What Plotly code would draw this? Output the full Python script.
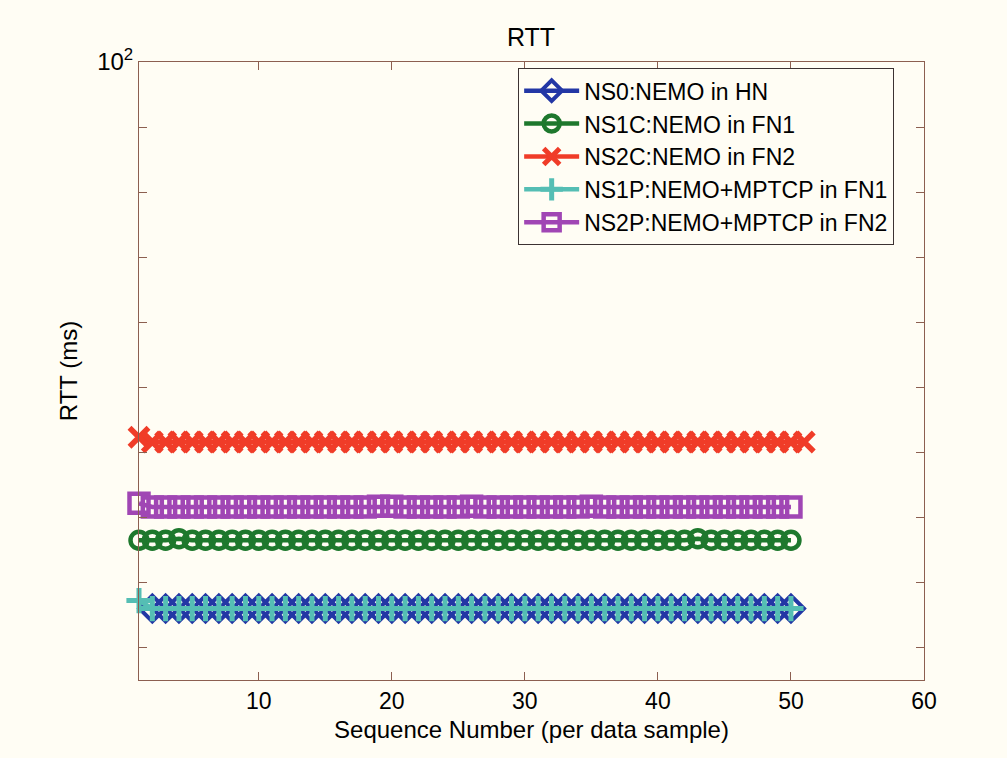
import plotly.graph_objects as go

# ---- data ----
x_ns0 = list(range(2, 51))
y_ns0 = [14.45] * len(x_ns0)

x_ns1c = list(range(1, 51))
y_ns1c = [18.4, 18.4, 18.4, 18.5, 18.4, 18.4, 18.4, 18.4, 18.4, 18.4,
          18.4, 18.4, 18.4, 18.4, 18.4, 18.4, 18.4, 18.4, 18.4, 18.4,
          18.4, 18.4, 18.4, 18.4, 18.4, 18.4, 18.4, 18.4, 18.4, 18.4,
          18.4, 18.4, 18.4, 18.4, 18.4, 18.4, 18.4, 18.4, 18.4, 18.4,
          18.4, 18.4, 18.5, 18.4, 18.4, 18.4, 18.4, 18.4, 18.4, 18.4]

x_ns2c = list(range(1, 52))
y_ns2c = [26.5] + [26.05] * 50

x_ns1p = list(range(1, 51))
y_ns1p = [14.86] + [14.45] * 49

x_ns2p = list(range(1, 51))
y_ns2p = [20.97, 20.7, 20.7, 20.7, 20.7, 20.7, 20.7, 20.7, 20.7, 20.7,
          20.7, 20.7, 20.7, 20.7, 20.7, 20.7, 20.7, 20.7, 20.75, 20.75,
          20.7, 20.7, 20.7, 20.7, 20.7, 20.75, 20.7, 20.7, 20.7, 20.7,
          20.7, 20.7, 20.7, 20.7, 20.75, 20.7, 20.7, 20.7, 20.7, 20.7,
          20.7, 20.7, 20.7, 20.7, 20.7, 20.7, 20.7, 20.7, 20.7, 20.7]

names = ["NS0:NEMO in HN", "NS1C:NEMO in FN1", "NS2C:NEMO in FN2",
         "NS1P:NEMO+MPTCP in FN1", "NS2P:NEMO+MPTCP in FN2"]

x_ticks = [10, 20, 30, 40, 50, 60]
y_major = [100]
y_major_text = ["10<sup>2</sup>"]

# ---- styling ----
BG = "rgb(255,253,244)"
AX = "rgb(140,95,80)"
FONT = "Liberation Sans, Arial, sans-serif"

series = [
    (x_ns0, y_ns0, names[0], "rgb(35,55,165)", "diamond-open", 20, 4),
    (x_ns1c, y_ns1c, names[1], "rgb(30,120,45)", "circle-open", 17, 4.5),
    (x_ns2c, y_ns2c, names[2], "rgb(240,60,40)", "x-thin-open", 19, 5.5),
    (x_ns1p, y_ns1p, names[3], "rgb(85,190,180)", "cross-thin-open", 18, 5),
    (x_ns2p, y_ns2p, names[4], "rgb(160,70,180)", "square-open", 19, 4.5),
]

fig = go.Figure()
for xs, ys, nm, col, sym, sz, lw in series:
    fig.add_trace(go.Scatter(
        x=xs, y=ys, name=nm, mode="lines+markers", cliponaxis=False,
        line=dict(color=col, width=4.5),
        marker=dict(symbol=sym, size=sz, color=col,
                    line=dict(color=col, width=lw)),
    ))
# dummy trace to activate the secondary (tick-only) axis
fig.add_trace(go.Scatter(x=[None], y=[None], yaxis="y2", showlegend=False,
                         hoverinfo="skip"))

fig.update_layout(
    width=1007, height=758,
    paper_bgcolor=BG, plot_bgcolor=BG,
    margin=dict(l=139, r=83, t=62, b=78),
    font=dict(family=FONT, size=23, color="black"),
    title=dict(text="RTT", x=0.5273, xanchor="center", y=0.951, yanchor="middle",
               font=dict(size=25, family=FONT, color="black")),
    showlegend=True,
    legend=dict(x=0.483, y=0.99, xanchor="left", yanchor="top",
                bgcolor=BG, bordercolor="rgb(60,50,50)", borderwidth=1,
                font=dict(size=23, family=FONT, color="black"),
                itemwidth=55, tracegroupgap=0),
    xaxis=dict(
        range=[1, 60], tickvals=x_ticks, ticks="inside", ticklen=8,
        tickcolor=AX, showline=True, linecolor=AX, linewidth=1, mirror="ticks",
        showgrid=False, zeroline=False,
        title=dict(text="Sequence Number (per data sample)", standoff=8,
                   font=dict(size=24, family=FONT)),
        tickfont=dict(size=23),
    ),
    yaxis=dict(
        type="log", range=[1.05, 2], tickvals=y_major, ticktext=y_major_text,
        ticks="inside", ticklen=8, tickcolor=AX, showline=True, linecolor=AX,
        linewidth=1, mirror="ticks", showgrid=False, zeroline=False,
        title=dict(text="RTT (ms)", standoff=12, font=dict(size=24, family=FONT)),
        tickfont=dict(size=24),
    ),
    yaxis2=dict(overlaying="y", side="left", range=[1.05, 2], dtick=0.1,
                tick0=1.0, ticks="inside", ticklen=8, tickcolor=AX,
                showticklabels=False, showline=False, mirror="ticks",
                showgrid=False, zeroline=False),
)

fig.write_html("out.html")
